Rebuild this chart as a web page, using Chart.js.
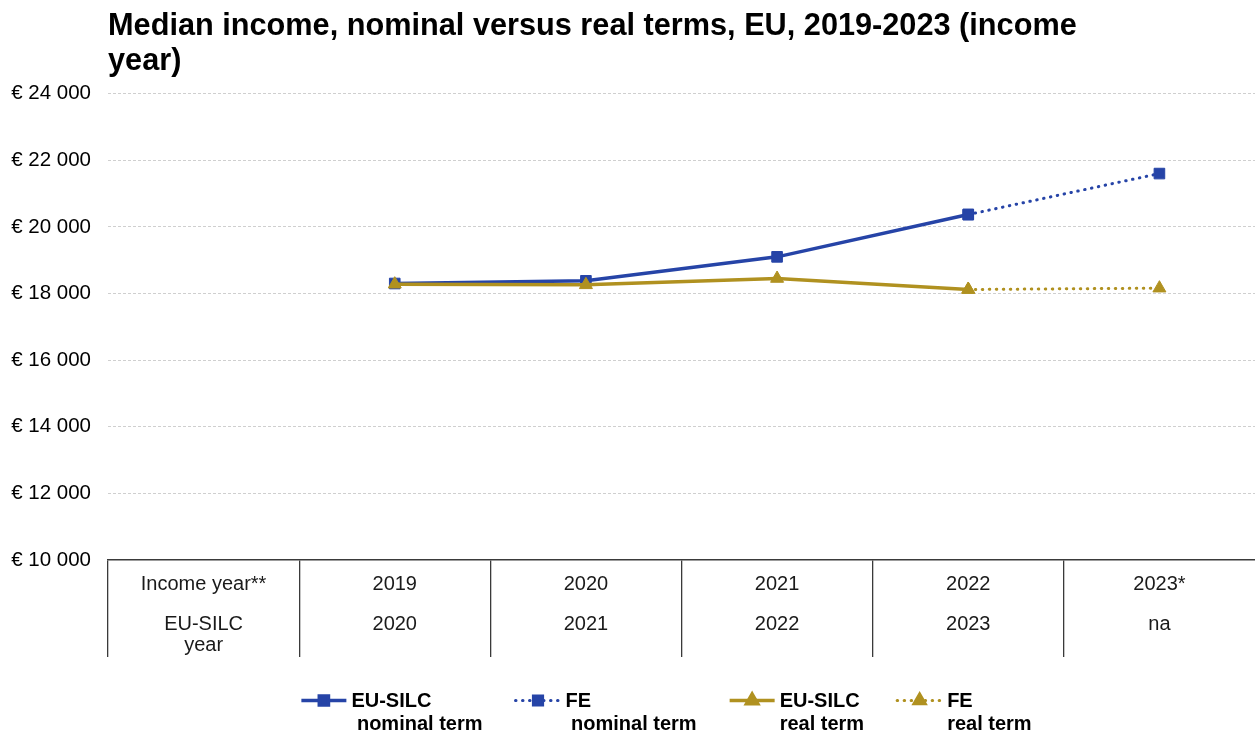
<!DOCTYPE html>
<html>
<head>
<meta charset="utf-8">
<script src="https://cdn.jsdelivr.net/npm/chart.js@4/dist/chart.umd.min.js"></script>
<style>
  html, body { margin: 0; padding: 0; background: #fff; }
  #wrap { width: 1255px; height: 736px; position: relative; }
</style>
</head>
<body>
<div id="wrap"><canvas id="chart"></canvas></div>
<script>
// Categories: income year (first row of the table under the axis) and EU-SILC survey year (second row)
const incomeYears = ['Income year**', '2019', '2020', '2021', '2022', '2023*'];
const silcYears = [['EU-SILC', 'year'], '2020', '2021', '2022', '2023', 'na'];

// Median equivalised net income, EUR
const silcNominal = [null, 18300, 18380, 19100, 20370, null];
const feNominal   = [null, null, null, null, 20370, 21600];
const silcReal    = [null, 18280, 18260, 18450, 18120, null];
const feReal      = [null, null, null, null, 18120, 18160];

// Value axis
const yMin = 10000;
const yMax = 24000;
const yStep = 2000;

const titleLines = ['Median income, nominal versus real terms, EU, 2019-2023 (income', 'year)'];
const legendLabels = [
  ['EU-SILC', ' nominal term'],
  ['FE', ' nominal term'],
  ['EU-SILC', 'real term'],
  ['FE', 'real term']
];

const BLUE = '#2644A7';
const GOLD = '#B09120';
const FONT = '"Liberation Sans", Arial, Helvetica, sans-serif';

Chart.defaults.font.family = FONT;
Chart.defaults.color = '#000';

function euro(v) {
  return '\u20ac ' + String(v).replace(/\B(?=(\d{3})+(?!\d))/g, ' ');
}

// Two-row year table drawn under the category axis
const yearTable = {
  id: 'yearTable',
  afterDraw(chart) {
    const ctx = chart.ctx;
    const xs = chart.scales.x;
    ctx.save();
    ctx.font = '20px ' + FONT;
    ctx.fillStyle = '#1a1a1a';
    ctx.textAlign = 'center';
    ctx.textBaseline = 'alphabetic';
    incomeYears.forEach((lab, i) => {
      const x = xs.getPixelForValue(i);
      ctx.fillText(lab, x, xs.top + 30);
      const second = Array.isArray(silcYears[i]) ? silcYears[i] : [silcYears[i]];
      second.forEach((s, k) => ctx.fillText(s, x, xs.top + 70 + k * 21));
    });
    ctx.restore();
  }
};

// Bottom legend with two-line bold labels
const bottomLegend = {
  id: 'bottomLegend',
  afterDraw(chart) {
    const ctx = chart.ctx;
    const ca = chart.chartArea;
    ctx.save();
    ctx.font = 'bold 20px ' + FONT;
    const sampleW = 45, textGap = 5, itemGap = 33;
    const widths = legendLabels.map(l => sampleW + textGap + Math.max(...l.map(t => ctx.measureText(t).width)));
    const total = widths.reduce((a, b) => a + b, 0) + itemGap * (widths.length - 1);
    let x = (ca.left + ca.right) / 2 - 15 - total / 2;
    const yLine = 700.5;
    chart.data.datasets.forEach((ds, i) => {
      ctx.save();
      ctx.strokeStyle = ds.borderColor;
      ctx.lineWidth = ds.borderWidth;
      ctx.lineCap = ds.borderCapStyle || 'butt';
      ctx.setLineDash(ds.borderDash || []);
      ctx.beginPath();
      ctx.moveTo(x, yLine);
      ctx.lineTo(x + sampleW, yLine);
      ctx.stroke();
      ctx.setLineDash([]);
      ctx.fillStyle = ds.pointBackgroundColor;
      ctx.strokeStyle = ds.pointBorderColor;
      Chart.helpers.drawPoint(ctx, {
        pointStyle: ds.pointStyle,
        radius: 6.5,
        rotation: 0,
        borderWidth: 1
      }, x + sampleW / 2, yLine);
      ctx.restore();
      ctx.fillStyle = '#000';
      ctx.textAlign = 'left';
      ctx.textBaseline = 'alphabetic';
      ctx.fillText(legendLabels[i][0], x + sampleW + textGap, 707);
      ctx.fillText(legendLabels[i][1], x + sampleW + textGap, 730);
      x += widths[i] + itemGap;
    });
    ctx.restore();
  }
};

function series(data, color, style, dotted, order) {
  return {
    data: data,
    borderColor: color,
    backgroundColor: color,
    borderWidth: dotted ? 3 : 3.5,
    borderDash: dotted ? [0.5, 6.5] : [],
    borderCapStyle: dotted ? 'round' : 'butt',
    pointStyle: style,
    pointRadius: 7.5,
    pointHoverRadius: 7.5,
    pointBorderWidth: 1,
    pointBackgroundColor: color,
    pointBorderColor: color,
    tension: 0,
    spanGaps: false,
    order: order
  };
}

new Chart(document.getElementById('chart'), {
  type: 'line',
  data: {
    labels: incomeYears,
    datasets: [
      series(silcNominal, BLUE, 'rect', false, 1),
      series(feNominal, BLUE, 'rect', true, 1),
      series(silcReal, GOLD, 'triangle', false, 0),
      series(feReal, GOLD, 'triangle', true, 0)
    ]
  },
  options: {
    responsive: true,
    maintainAspectRatio: false,
    animation: false,
    devicePixelRatio: 1,
    layout: { autoPadding: false, padding: { left: 10, right: 0, top: 0, bottom: 79 } },
    plugins: {
      legend: { display: false },
      tooltip: { enabled: false },
      title: {
        display: true,
        fullSize: false,
        align: 'start',
        text: titleLines,
        color: '#000',
        font: { size: 30.7, weight: 'bold', lineHeight: 1.15 },
        padding: { top: 9, bottom: 14 }
      }
    },
    scales: {
      x: {
        offset: true,
        grid: {
          offset: true,
          drawOnChartArea: false,
          drawTicks: true,
          tickLength: 97,
          lineWidth: 1.3,
          color: c => (c.type === 'tick' ? '#3a3a3a' : 'rgba(0,0,0,0)')
        },
        border: { display: true, color: '#3a3a3a', width: 1.5 },
        ticks: { display: false }
      },
      y: {
        min: yMin,
        max: yMax,
        ticks: {
          stepSize: yStep,
          padding: 17,
          color: '#000',
          font: { size: 20.5 },
          callback: v => euro(v)
        },
        grid: {
          drawTicks: false,
          lineWidth: 1,
          color: c => (c.tick && c.tick.value === yMin ? 'rgba(0,0,0,0)' : '#cfcfcf')
        },
        border: { display: false, dash: [3, 2] },
        afterFit: s => { s.width = 98; }
      }
    }
  },
  plugins: [yearTable, bottomLegend]
});
</script>
</body>
</html>
